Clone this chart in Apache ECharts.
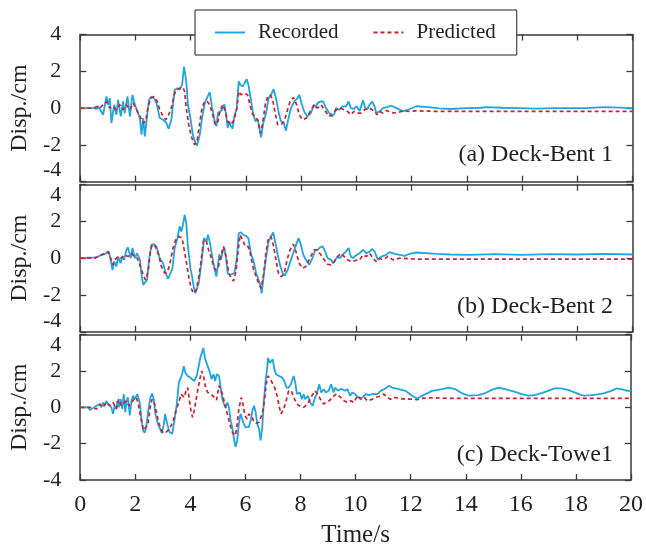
<!DOCTYPE html>
<html>
<head>
<meta charset="utf-8">
<script src="https://cdn.jsdelivr.net/npm/echarts@6/dist/echarts.min.js"></script>
<style>html,body{margin:0;padding:0;background:#fff;}#c{width:646px;height:549px;}</style>
</head>
<body>
<div id="c"></div>
<script>
// ---- Data (time in s, displacement in cm) ----
const xTicks = [0, 2, 4, 6, 8, 10, 12, 14, 16, 18, 20];
const yTicks = [-4, -2, 0, 2, 4];
const panelLabels = ['(a) Deck-Bent 1', '(b) Deck-Bent 2', '(c) Deck-Towe1'];
const legendNames = ['Recorded', 'Predicted'];

// Panel (a) Deck-Bent 1
const tRecA = [0,0.5,0.6,0.65,0.83,0.95,1.01,1.07,1.13,1.23,1.31,1.37,1.47,1.55,1.61,1.71,1.8,1.89,1.98,2.07,2.16,2.22,2.28,2.34,2.4,2.49,2.58,2.67,2.76,2.88,3.0,3.12,3.2,3.3,3.42,3.52,3.6,3.69,3.76,3.84,3.9,3.99,4.08,4.17,4.23,4.33,4.41,4.51,4.6,4.69,4.77,4.87,4.93,4.99,5.06,5.14,5.22,5.28,5.34,5.4,5.46,5.52,5.58,5.67,5.74,5.8,5.88,5.94,6.03,6.09,6.16,6.25,6.34,6.43,6.49,6.55,6.63,6.73,6.82,6.91,7.0,7.09,7.19,7.27,7.37,7.45,7.53,7.63,7.75,7.87,7.93,8.03,8.11,8.23,8.35,8.47,8.53,8.59,8.69,8.8,8.9,9.02,9.11,9.2,9.26,9.38,9.5,9.62,9.72,9.8,9.92,10.0,10.12,10.24,10.32,10.4,10.48,10.57,10.66,10.72,10.85,10.96,11.1,11.27,11.45,11.69,11.93,12.17,12.6,13.0,13.4,14.0,14.5,14.7,15.3,15.9,16.5,17.2,18.3,19.0,20];
const dRecA = [0,0,-0.05,0.1,-0.36,0.63,0.18,0.54,-0.81,0.18,-0.36,0.45,-0.45,0.36,-0.27,0.63,-0.45,0.72,0.18,-0.18,-0.54,-1.45,-0.54,-1.54,-0.72,0.45,0.63,0.54,0.27,-0.54,-0.63,-0.81,-1.12,-0.63,0.99,1.08,0.99,1.27,2.26,1.45,0.18,-0.54,-1.45,-1.9,-2.03,-1.45,-0.54,0.27,0.58,0.87,0.09,-0.72,-0.99,-0.27,-0.36,-0.09,0.22,-0.36,-1.08,-0.72,-0.99,-1.12,-0.45,0,1.45,1.27,1.17,1.27,1.57,1.27,0.63,-0.18,-0.72,-0.63,-1.08,-1.59,-0.81,-0.27,0.54,0.72,1.03,0.54,-0.27,-0.72,-0.81,-1.23,-0.63,0,0.36,0.54,0.72,0.18,-0.18,-0.45,-0.27,0.18,0.04,0.27,0.36,0.36,0,-0.27,-0.45,-0.33,0,-0.09,0.09,0.09,0.36,0,-0.04,0.1,-0.15,0.42,0,-0.05,0.18,0.36,0.09,-0.27,-0.18,0,0.05,0.13,0,-0.18,-0.05,0.1,0.05,-0.02,-0.05,0,0.02,0.05,0.02,0,-0.03,0,0,0.05,0];
const tPreA = [0,0.5,0.6,0.71,0.83,0.95,1.07,1.19,1.31,1.43,1.55,1.67,1.8,1.92,2.04,2.16,2.28,2.37,2.46,2.55,2.67,2.79,2.88,3.0,3.1,3.18,3.3,3.4,3.48,3.6,3.72,3.78,3.84,3.93,4.02,4.14,4.23,4.3,4.41,4.51,4.6,4.69,4.78,4.89,4.99,5.04,5.16,5.22,5.34,5.46,5.58,5.67,5.74,5.82,5.94,6.06,6.12,6.22,6.34,6.43,6.52,6.6,6.7,6.79,6.88,6.97,7.06,7.15,7.27,7.39,7.49,7.6,7.72,7.84,7.93,8.05,8.2,8.33,8.47,8.59,8.72,8.84,9.02,9.14,9.28,9.4,9.56,9.68,9.8,9.92,10.04,10.16,10.3,10.48,10.66,10.75,10.84,10.96,11.08,11.27,11.45,11.69,11.93,12.17,13.0,20];
const dPreA = [0,0,0.09,0,0.18,0.36,0,0.09,-0.09,0.18,-0.09,0.18,-0.09,0.27,-0.09,-0.45,-0.81,-0.72,0.09,0.54,0.63,0.36,-0.09,-0.45,-0.63,-0.45,0,0.72,0.99,1.08,1.12,0.9,0,-0.9,-1.54,-1.99,-1.81,-1.08,0,0.36,0.36,0.18,-0.27,-0.9,-0.72,-0.27,0.18,0,-0.72,-0.9,-0.63,0,0.9,0.72,0.81,0.72,0.36,-0.27,-0.54,-0.63,-1.36,-0.9,0.18,0.63,0.72,0.45,-0.27,-0.9,-0.9,-0.72,-0.18,0.36,0.58,0.18,-0.36,-0.63,-0.54,-0.18,0.18,0,0.18,-0.09,-0.45,-0.27,-0.09,0,-0.09,-0.18,-0.36,-0.18,-0.27,-0.27,-0.09,0,-0.18,-0.36,-0.18,-0.27,-0.13,-0.24,-0.27,-0.15,-0.18,-0.15,-0.18,-0.18];

// Panel (b) Deck-Bent 2
const tRecB = [0,0.53,0.65,0.77,0.87,0.95,1.04,1.1,1.17,1.23,1.31,1.37,1.46,1.52,1.59,1.67,1.73,1.83,1.89,1.98,2.06,2.16,2.22,2.28,2.34,2.42,2.49,2.58,2.67,2.76,2.88,3.0,3.08,3.18,3.25,3.34,3.42,3.52,3.6,3.66,3.72,3.78,3.84,3.9,3.99,4.05,4.11,4.17,4.23,4.29,4.39,4.48,4.57,4.63,4.71,4.78,4.87,4.93,4.99,5.04,5.1,5.16,5.22,5.28,5.34,5.43,5.5,5.58,5.67,5.74,5.82,5.91,6.0,6.09,6.19,6.27,6.37,6.46,6.52,6.57,6.64,6.73,6.82,6.91,6.99,7.06,7.15,7.25,7.33,7.41,7.51,7.63,7.75,7.84,7.91,7.99,8.08,8.17,8.29,8.41,8.51,8.59,8.68,8.78,8.87,8.96,9.08,9.16,9.23,9.32,9.4,9.5,9.62,9.72,9.8,9.88,9.98,10.12,10.24,10.36,10.48,10.58,10.66,10.78,10.9,11.08,11.2,11.39,11.57,11.75,11.93,12.17,12.9,13.4,14.1,15.0,16.0,17.0,18.0,19.0,20];
const dRecB = [0,0.04,0.09,0.18,0.22,0.27,0.36,-0.09,-0.64,-0.18,-0.45,0.09,-0.27,0.09,-0.09,0.45,0.58,0,0.55,0,0.27,-0.09,-0.91,-1.45,-1.55,-1.18,-0.09,0.73,0.76,0.64,0,-0.27,-0.73,-1.13,-1.18,-0.55,0.55,1.09,1.73,1.45,1.82,2.36,1.91,0.64,-0.55,-1.0,-1.55,-1.91,-1.82,-1.36,-0.27,1.09,0.91,1.27,0.73,0.09,-0.64,-1.0,-0.36,0.22,-0.09,0.36,0.55,0,-0.82,-0.91,-1.0,-0.82,0,1.36,1.4,1.27,1.22,1.09,0.18,-0.09,-0.82,-1.18,-1.45,-1.91,-1.0,0,0.91,1.18,1.4,0.91,0.18,-0.45,-0.82,-0.95,-0.64,-0.09,0.45,0.82,1.09,0.73,0.18,-0.09,-0.36,0,0.45,0.45,0.58,0.64,0.36,0,-0.09,-0.27,-0.27,0.09,0,0.18,0.36,0.55,0.09,0,0.15,0.27,0.45,0.27,0.36,0.5,0.36,-0.09,0.09,0.18,0.33,0.24,0.18,0.13,0.24,0.31,0.24,0.2,0.18,0.22,0.18,0.22,0.2,0.24,0.2];
const tPreB = [0,0.53,0.65,0.77,0.89,0.99,1.07,1.17,1.25,1.37,1.49,1.61,1.73,1.86,1.95,2.07,2.18,2.28,2.36,2.46,2.54,2.61,2.72,2.84,2.94,3.06,3.16,3.24,3.36,3.48,3.58,3.69,3.76,3.84,3.94,4.02,4.1,4.2,4.29,4.39,4.47,4.57,4.65,4.75,4.83,4.9,4.99,5.1,5.19,5.28,5.37,5.46,5.55,5.64,5.73,5.79,5.88,5.98,6.08,6.16,6.25,6.37,6.46,6.55,6.63,6.73,6.82,6.91,6.99,7.09,7.19,7.29,7.39,7.49,7.6,7.72,7.81,7.93,8.05,8.17,8.32,8.47,8.59,8.72,8.84,8.96,9.08,9.2,9.32,9.44,9.56,9.68,9.8,9.92,10.04,10.12,10.24,10.36,10.48,10.6,10.72,10.84,10.96,11.14,11.33,11.57,12.2,20];
const dPreB = [0,0,0.09,0.18,0.27,0.36,0.18,-0.36,-0.09,0.09,0,0.18,0.09,0.27,0.09,0,-0.45,-0.91,-1.18,-0.73,0.36,0.76,0.64,0.18,-0.45,-0.82,-0.73,-0.36,0.55,1.09,1.18,1.09,1.0,-0.18,-1.09,-1.64,-1.91,-1.73,-1.09,0,1.0,0.91,0.45,0,-0.45,-0.64,-0.55,0.18,0.64,0.09,-0.73,-1.09,-1.24,-0.73,0.55,1.27,1.0,0.64,0.64,0.27,-0.45,-1.0,-1.36,-1.64,-1.0,0.36,1.09,1.18,0.73,-0.09,-0.91,-1.0,-0.82,-0.09,0.45,0.76,0.36,-0.27,-0.55,-0.45,0,0.45,0.45,0.18,-0.09,-0.33,-0.36,-0.18,0.09,0.27,0.09,-0.09,-0.18,-0.15,-0.09,-0.09,0.18,0.09,0.27,0,-0.18,0,-0.09,0.09,-0.09,0,-0.05,-0.05];

// Panel (c) Deck-Towe1
const tRecC = [0,0.3,0.35,0.47,0.59,0.71,0.77,0.83,0.89,0.95,1.01,1.07,1.13,1.19,1.25,1.31,1.35,1.4,1.47,1.53,1.58,1.64,1.67,1.73,1.8,1.86,1.92,1.98,2.07,2.16,2.22,2.28,2.34,2.4,2.46,2.55,2.61,2.67,2.73,2.82,2.9,2.96,3.04,3.08,3.16,3.24,3.34,3.42,3.5,3.58,3.64,3.7,3.76,3.82,3.9,3.99,4.06,4.14,4.23,4.29,4.36,4.42,4.47,4.54,4.63,4.71,4.77,4.84,4.9,4.96,5.04,5.1,5.16,5.22,5.28,5.34,5.4,5.46,5.52,5.58,5.64,5.7,5.76,5.82,5.88,5.94,6.0,6.06,6.12,6.19,6.25,6.31,6.37,6.43,6.49,6.55,6.61,6.67,6.73,6.79,6.82,6.88,6.94,6.99,7.05,7.11,7.21,7.33,7.41,7.49,7.57,7.65,7.75,7.81,7.87,7.97,8.05,8.11,8.17,8.27,8.35,8.44,8.53,8.59,8.68,8.75,8.84,8.92,9.02,9.11,9.2,9.26,9.35,9.44,9.52,9.62,9.7,9.8,9.88,9.98,10.13,10.25,10.37,10.49,10.61,10.79,10.91,11.03,11.21,11.33,11.57,11.81,12.05,12.23,12.41,12.78,13.14,13.38,13.62,13.86,14.1,14.47,14.7,14.94,15.19,15.43,15.79,16.03,16.27,16.51,16.75,16.99,17.23,17.47,17.71,17.95,18.2,18.32,18.56,18.8,19.04,19.28,19.46,19.64,19.88,20];
const dRecC = [0,0,-0.15,-0.04,0.09,0.18,0,0.27,0.09,0.36,0.18,0.27,0,-0.36,0.09,-0.09,0.36,0,0.45,-0.09,0.73,-0.27,0.27,0.55,-0.45,0.36,0.64,0.45,0.73,0.27,-0.55,-1.27,-1.4,-1.09,-0.27,0.55,0.76,0.45,-0.36,-0.91,-1.18,-1.42,-0.91,-0.36,-0.91,-1.36,-1.45,-0.73,0.09,1.36,1.45,1.82,2.27,1.91,1.73,1.64,1.64,1.45,1.73,2.18,2.73,3.0,3.27,2.64,2.27,1.91,1.55,1.82,1.45,1.82,1.73,1.09,0.45,0.18,0,0.27,0,-0.73,-1.09,-1.73,-2.18,-1.82,-0.91,-0.36,-0.45,-0.91,-1.09,-1.0,-1.09,-0.73,-0.18,0.09,-0.27,-0.91,-1.18,-1.82,-1.09,0.36,1.45,2.18,2.73,2.45,2.55,2.64,2.09,1.82,1.73,1.64,1.45,1.09,1.09,1.27,1.73,1.36,0.73,0.82,0.45,0.73,0.45,0.64,0.27,0.09,0.55,0.73,1.27,0.82,1.0,0.82,0.91,1.27,0.82,1.09,0.91,1.0,1.0,0.91,1.0,0.64,0.82,0.73,0.49,0.55,0.73,0.67,0.73,0.73,0.91,1.0,1.18,1.09,1.0,0.91,0.64,0.49,0.64,0.91,1.0,1.09,1.0,0.78,0.64,0.67,0.78,0.96,1.09,1.0,0.85,0.73,0.64,0.67,0.78,0.91,1.04,1.04,0.96,0.82,0.67,0.64,0.67,0.71,0.78,0.91,1.04,1.0,0.91,0.91];
const tPreC = [0,0.4,0.47,0.59,0.71,0.83,0.95,1.07,1.19,1.31,1.4,1.49,1.59,1.67,1.77,1.86,1.95,2.04,2.12,2.22,2.3,2.37,2.46,2.54,2.61,2.7,2.82,2.92,3.02,3.12,3.24,3.36,3.48,3.58,3.66,3.72,3.78,3.84,3.9,3.96,4.02,4.08,4.14,4.23,4.33,4.41,4.48,4.54,4.63,4.75,4.87,4.95,5.04,5.1,5.16,5.25,5.34,5.43,5.52,5.58,5.64,5.7,5.76,5.85,5.91,5.98,6.06,6.12,6.19,6.25,6.31,6.39,6.49,6.61,6.69,6.75,6.82,6.88,6.97,7.06,7.15,7.23,7.29,7.39,7.49,7.57,7.67,7.75,7.87,7.99,8.11,8.23,8.32,8.41,8.53,8.62,8.72,8.84,8.92,9.04,9.16,9.3,9.46,9.58,9.7,9.82,9.94,10.07,10.19,10.31,10.43,10.49,10.61,10.73,10.85,11.03,11.15,11.27,11.39,11.57,11.81,12.05,12.23,12.41,12.78,13.5,20];
const dPreC = [0,0,0.09,-0.09,0.18,0,0.27,0.09,0.27,-0.09,0.45,0.09,0.27,0.36,0.09,0.27,0.45,0.55,0.09,-0.73,-1.27,-1.36,-0.91,0,0.45,0.18,-0.64,-1.18,-1.42,-1.36,-1.18,-0.82,-0.18,0.27,0.73,0.82,0.55,0.91,1.09,0.45,-0.18,-0.55,-0.18,0.64,1.45,2.0,1.73,1.18,0.82,0.73,0.55,0.4,1.2,1.18,0.73,0.18,-0.36,-0.91,-1.36,-1.45,-1.55,-0.91,-0.09,0.55,0.18,-0.45,-0.64,-0.36,-0.27,-0.55,-0.82,-0.87,-0.82,-0.36,0.36,1.27,1.73,1.64,1.36,1.09,0.64,0,-0.36,-0.09,0.45,0.91,0.91,0.55,0.18,0.05,0,0.15,0.36,0.64,0.91,0.73,0.45,0.18,0.27,0.36,0.55,0.75,0.55,0.36,0.27,0.36,0.27,0.64,0.45,0.55,0.36,0.27,0.45,0.55,0.6,0.73,0.55,0.45,0.55,0.49,0.45,0.45,0.42,0.49,0.53,0.49,0.49];

const recTimes = [tRecA, tRecB, tRecC];
const recDisps = [dRecA, dRecB, dRecC];
const preTimes = [tPreA, tPreB, tPreC];
const preDisps = [dPreA, dPreB, dPreC];

// ---- Layout ----
const FONT = 'Liberation Serif, Times New Roman, serif';
const TXT = '#231f20';
const AX = '#3a3a3a';
const BLUE = '#1ea5e3';
const RED = '#d0202e';
const gridTops = [34.5, 184.6, 334.7];
const gridH = 147.2;
const gridLeft = 80, gridW = 552.5;

function pairs(ts, ds) { return ts.map((t, i) => [t, ds[i]]); }

const grids = [], xAxes = [], yAxes = [], series = [], graphics = [];
const minAlign = ['bottom', 'bottom', 'middle'];
const maxAlign = ['middle', 'top', 'top'];
const labelYs = [157, 309, 457];

for (let i = 0; i < 3; i++) {
  grids.push({ left: gridLeft, top: gridTops[i], width: gridW, height: gridH, containLabel: false });
  const isLast = i === 2;
  const lineSty = { show: true, onZero: false, lineStyle: { color: AX, width: 1.5 } };
  const tickSty = { show: true, inside: true, length: 6, lineStyle: { color: AX, width: 1.3 } };
  xAxes.push({
    type: 'value', gridIndex: i, position: 'bottom', min: xTicks[0], max: xTicks[xTicks.length - 1], interval: xTicks[1] - xTicks[0],
    axisLine: lineSty, axisTick: tickSty, splitLine: { show: false },
    axisLabel: { show: isLast, fontSize: 24, fontFamily: FONT, color: TXT, margin: 13 },
    name: isLast ? 'Time/s' : '', nameLocation: 'middle', nameGap: 43,
    nameTextStyle: { fontSize: 25, fontFamily: FONT, color: TXT }
  });
  xAxes.push({
    type: 'value', gridIndex: i, position: 'top', min: xTicks[0], max: xTicks[xTicks.length - 1], interval: xTicks[1] - xTicks[0],
    axisLine: lineSty, axisTick: tickSty, splitLine: { show: false }, axisLabel: { show: false }
  });
  yAxes.push({
    type: 'value', gridIndex: i, position: 'left', min: yTicks[0], max: yTicks[yTicks.length - 1], interval: yTicks[1] - yTicks[0],
    axisLine: lineSty, axisTick: tickSty, splitLine: { show: false },
    axisLabel: { show: true, fontSize: 22, fontFamily: FONT, color: TXT, margin: 19,
      verticalAlignMinLabel: minAlign[i], verticalAlignMaxLabel: maxAlign[i] },
    name: 'Disp./cm', nameLocation: 'middle', nameGap: 41, nameRotate: 90,
    nameTextStyle: { fontSize: 24, fontFamily: FONT, color: TXT }
  });
  yAxes.push({
    type: 'value', gridIndex: i, position: 'right', min: yTicks[0], max: yTicks[yTicks.length - 1], interval: yTicks[1] - yTicks[0],
    axisLine: lineSty, axisTick: tickSty, splitLine: { show: false }, axisLabel: { show: false }
  });
  series.push({
    name: legendNames[0], type: 'line', xAxisIndex: 2 * i, yAxisIndex: 2 * i, symbol: 'none', showSymbol: false,
    data: pairs(recTimes[i], recDisps[i]), lineStyle: { color: BLUE, width: 1.8 }, itemStyle: { color: BLUE }, z: 2
  });
  series.push({
    name: legendNames[1], type: 'line', xAxisIndex: 2 * i, yAxisIndex: 2 * i, symbol: 'none', showSymbol: false,
    data: pairs(preTimes[i], preDisps[i]), lineStyle: { color: RED, width: 1.7, type: [4, 3] }, itemStyle: { color: RED }, z: 3
  });
  graphics.push({
    type: 'text', right: 646 - 613, top: labelYs[i] - 14,
    style: { text: panelLabels[i], fontSize: 24, fontFamily: FONT, fill: TXT }
  });
}

const SOLID_ICON = 'path://M0,0H30V2H0Z';
const DASH_ICON = 'path://M0,0H4V2H0Z M7,0H11V2H7Z M14,0H18V2H14Z M21,0H25V2H21Z M28,0H30V2H28Z';

const chart = echarts.init(document.getElementById('c'), null, { renderer: 'canvas' });
chart.setOption({
  animation: false,
  backgroundColor: '#fff',
  grid: grids, xAxis: xAxes, yAxis: yAxes, series: series, graphic: graphics,
  legend: {
    data: [{ name: legendNames[0], icon: SOLID_ICON }, { name: legendNames[1], icon: DASH_ICON }],
    left: 195, top: 10,
    padding: [12, 21, 12, 20], itemWidth: 30, itemHeight: 2, itemGap: 35,
    backgroundColor: '#fff', borderColor: TXT, borderWidth: 1, z: 10,
    itemStyle: { borderWidth: 0 }, lineStyle: { width: 0 },
    textStyle: { fontSize: 21, fontFamily: FONT, color: TXT, padding: [0, 0, 0, 8] }
  }
});
</script>
</body>
</html>
